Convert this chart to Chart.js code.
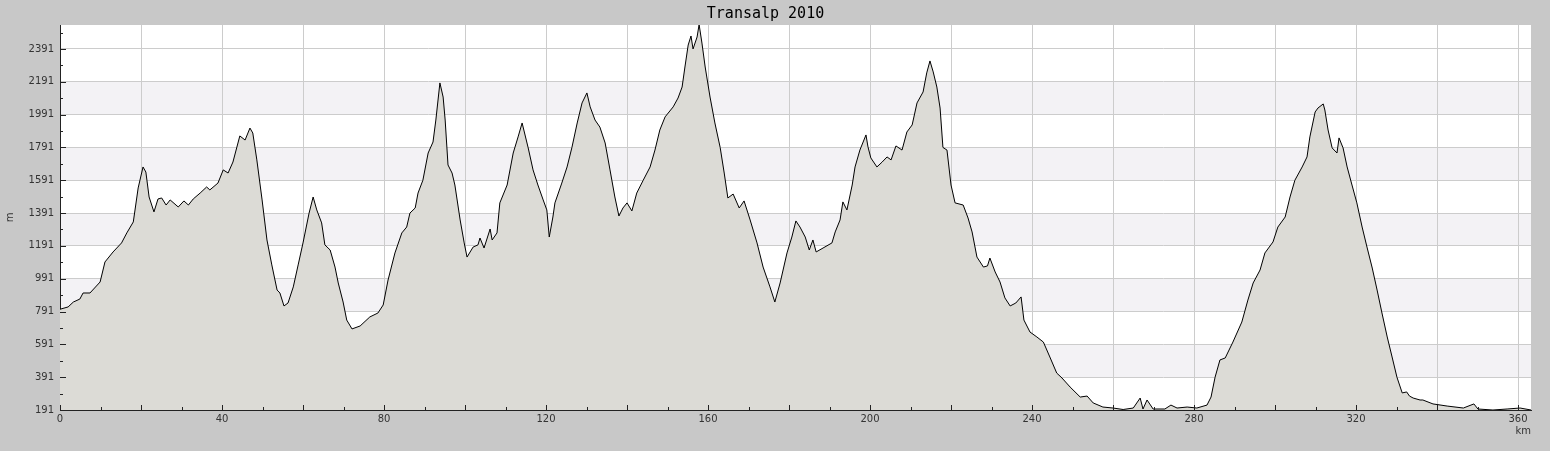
<!DOCTYPE html>
<html>
<head>
<meta charset="utf-8">
<script src="https://cdn.jsdelivr.net/npm/chart.js@4.4.1/dist/chart.umd.min.js"></script>
<style>
html,body{margin:0;padding:0;background:#c8c8c8;}
canvas{display:block;}
</style>
</head>
<body>
<canvas id="c" width="1550" height="451"></canvas>
<script>
const chartTitle = "Transalp 2010";
const xAxisLabel = "km";
const yAxisLabel = "m";

const distanceKm = [
0,2,3.3,4.9,5.7,7.4,9.9,11.1,13.1,15.2,16.5,18.1,19.3,20.5,21.2,22,23.2,24.2,25.1,26.2,27.2,29.2,30.6,31.7,32.9,34.6,36.2,37,39,40.3,41.5,42.7,44.4,45.7,46.9,47.6,48.6,49.9,51.1,52.3,53.6,54.3,55.3,56.3,57.6,58.8,60,61.5,62.5,63.4,64.6,65.4,66.7,67.9,68.7,69.9,70.8,72.1,74.1,76.5,78.5,79.8,81,82.7,84.4,85.6,86.4,87.7,88.4,89.6,90.9,92.1,92.8,93.8,94.6,95.1,95.8,96.8,97.5,98.8,99.8,100.5,102,103.2,103.7,104.7,106.2,106.7,107.9,108.6,110.4,111.9,113.1,114.1,115.6,116.8,118,119.3,120.2,120.8,121.7,122.2,123.9,125.2,126.4,127.7,128.9,130.1,130.9,132.1,133.3,134.6,135.8,137,138,139,140,141.2,142.4,144,145.7,146.9,148.1,149.4,151.4,152.6,153.6,154.3,155.1,155.8,156.3,157.3,157.8,158.5,159.3,160.5,161.7,163,164,164.9,166.2,167.7,168.9,170.4,172.1,173.6,175.3,176.5,177.8,179.5,180.7,181.7,182.7,184,185,185.9,186.7,188.4,190.6,191.4,192.6,193.3,194.3,195.6,196.3,197.5,199,199.5,200.2,201.7,203,204.2,205.2,206.4,207.9,209.1,210.4,211.6,213.1,214,214.8,215.6,216.5,217.3,218,219,220,221,223,224.2,225.2,226.4,228,229,229.6,230.9,232.1,233.3,234.6,236,237.3,238,239.5,241.2,242.8,244.4,246.1,247.4,249.4,251.9,253.6,255.1,257.5,260,262.5,265,266.7,267.4,268.4,269.9,272.8,274.3,275.8,278.3,280.7,283.2,284.2,284.7,285.2,286.4,287.7,289.6,291.8,293.3,294.6,296.3,297.5,299.5,300.7,302.5,303.7,304.9,306.7,307.9,308.6,309.9,310.6,311.9,312.3,313.1,314.1,315.3,315.8,316.8,317.8,319,320.2,321.5,322.7,324,325.2,326.4,327.7,328.9,330.1,331.4,332.5,333.2,334.1,335.8,336.5,339,342.5,346.5,349.1,350.1,353.8,357.3,360.5,363.2
];
const elevationM = [
805,819,849,867,904,904,971,1093,1154,1209,1270,1337,1544,1672,1641,1489,1398,1477,1483,1440,1471,1428,1465,1440,1477,1513,1550,1532,1574,1654,1635,1702,1861,1836,1909,1879,1715,1471,1227,1075,922,904,825,843,941,1075,1209,1391,1489,1410,1331,1197,1166,1062,965,849,739,685,703,758,782,831,983,1148,1270,1306,1391,1422,1513,1591,1757,1824,1958,2184,2098,1958,1684,1635,1562,1349,1209,1123,1184,1197,1239,1178,1294,1227,1270,1453,1562,1757,1855,1940,1788,1654,1562,1471,1410,1245,1367,1453,1574,1672,1791,1940,2062,2123,2038,1958,1915,1818,1654,1489,1373,1422,1453,1404,1513,1591,1672,1775,1897,1977,2038,2092,2159,2281,2415,2470,2391,2464,2540,2427,2281,2098,1940,1791,1635,1483,1507,1422,1465,1349,1209,1062,941,849,965,1148,1245,1343,1306,1245,1166,1227,1154,1178,1209,1276,1349,1459,1410,1562,1672,1775,1867,1794,1727,1672,1702,1733,1715,1800,1775,1885,1928,2062,2129,2245,2318,2251,2159,2031,1791,1775,1562,1453,1440,1361,1276,1123,1062,1069,1117,1032,971,874,825,843,880,739,666,636,605,514,416,386,331,270,276,234,209,203,194,203,264,197,252,197,197,221,203,209,203,221,270,331,391,496,508,605,727,861,965,1044,1148,1215,1306,1367,1489,1591,1672,1733,1855,2007,2031,2056,2019,1897,1788,1757,1849,1788,1672,1562,1453,1306,1184,1056,922,782,636,514,391,295,301,276,264,252,252,228,215,203,228,197,191,197,203,191
];

const yTickValues = [191,391,591,791,991,1191,1391,1591,1791,1991,2191,2391];
const xTickValues = [0,20,40,60,80,100,120,140,160,180,200,220,240,260,280,300,320,340,360];
const xLabelStep = 40;
const bandRanges = [[391,591],[791,991],[1191,1391],[1591,1791],[1991,2191]];
const xMin = 0, xMax = 363.2, yMin = 191, yMax = 2537;

const points = distanceKm.map((k,i)=>({x:k, y:elevationM[i]}));

const decorPlugin = {
  id:'decor',
  beforeDraw(chart){
    const ctx = chart.ctx, a = chart.chartArea, ys = chart.scales.y;
    ctx.save();
    ctx.fillStyle = '#c8c8c8';
    ctx.fillRect(0,0,chart.width,chart.height);
    ctx.fillStyle = '#ffffff';
    ctx.fillRect(a.left,a.top,a.right-a.left,a.bottom-a.top);
    ctx.fillStyle = '#f3f2f5';
    bandRanges.forEach(([lo,hi])=>{
      const y1 = ys.getPixelForValue(hi), y2 = ys.getPixelForValue(lo);
      ctx.fillRect(a.left,y1,a.right-a.left,y2-y1);
    });
    ctx.restore();
  },
  afterDraw(chart){
    const ctx = chart.ctx, a = chart.chartArea, xs = chart.scales.x, ys = chart.scales.y;
    ctx.save();
    ctx.strokeStyle = '#222';
    ctx.lineWidth = 1;
    ctx.beginPath();
    for(let i=0;i<yTickValues.length;i++){
      const v = yTickValues[i];
      const p = Math.round(ys.getPixelForValue(v))+0.5;
      ctx.moveTo(a.left,p); ctx.lineTo(a.left+6,p);
      const mv = v + (yTickValues[1]-yTickValues[0])/2;
      if(mv < yMax){
        const q = Math.round(ys.getPixelForValue(mv))+0.5;
        ctx.moveTo(a.left,q); ctx.lineTo(a.left+3,q);
      }
    }
    for(let i=0;i<xTickValues.length;i++){
      const v = xTickValues[i];
      const p = Math.round(xs.getPixelForValue(v))+0.5;
      ctx.moveTo(p,a.bottom); ctx.lineTo(p,a.bottom-5);
      const mv = v + (xTickValues[1]-xTickValues[0])/2;
      if(mv < xMax){
        const q = Math.round(xs.getPixelForValue(mv))+0.5;
        ctx.moveTo(q,a.bottom); ctx.lineTo(q,a.bottom-3);
      }
    }
    ctx.stroke();
    ctx.restore();
  }
};

new Chart(document.getElementById('c'), {
  type:'line',
  data:{datasets:[{
    data:points,
    borderColor:'#000000',
    borderWidth:1,
    backgroundColor:'#dcdbd6',
    fill:'start',
    pointRadius:0,
    tension:0
  }]},
  options:{
    responsive:false,
    animation:false,
    devicePixelRatio:1,
    layout:{padding:{left:0,right:19,top:0,bottom:0}},
    plugins:{
      legend:{display:false},
      tooltip:{enabled:false},
      title:{display:true,text:chartTitle,color:'#000',
        font:{family:'"DejaVu Sans Mono", monospace',size:15,weight:'normal',lineHeight:1.2},
        padding:{top:5,bottom:2}}
    },
    scales:{
      x:{type:'linear',min:xMin,max:xMax,
        afterFit(s){s.height=41;},
        afterBuildTicks(s){s.ticks = xTickValues.map(v=>({value:v}));},
        ticks:{autoSkip:false,maxRotation:0,padding:3,color:'#333',
          font:{family:'"DejaVu Sans", sans-serif',size:10},
          callback:(v)=> (v % xLabelStep === 0 ? String(v) : '')},
        grid:{color:'#cccccc',lineWidth:1,drawTicks:false},
        border:{display:true,color:'#222',width:1},
        title:{display:true,text:xAxisLabel,align:'end',color:'#333',
          font:{family:'"DejaVu Sans", sans-serif',size:10,lineHeight:1.2},
          padding:{top:0,bottom:14}}
      },
      y:{type:'linear',min:yMin,max:yMax,
        afterFit(s){s.width=60;},
        afterBuildTicks(s){s.ticks = yTickValues.map(v=>({value:v}));},
        ticks:{autoSkip:false,padding:6,color:'#333',
          font:{family:'"DejaVu Sans", sans-serif',size:10},
          callback:(v)=> String(v)},
        grid:{color:'#cccccc',lineWidth:1,drawTicks:false},
        border:{display:true,color:'#222',width:1},
        title:{display:true,text:yAxisLabel,color:'#333',
          font:{family:'"DejaVu Sans", sans-serif',size:10,lineHeight:1.2},
          padding:{top:4,bottom:0}}
      }
    }
  },
  plugins:[decorPlugin]
});
</script>
</body>
</html>
